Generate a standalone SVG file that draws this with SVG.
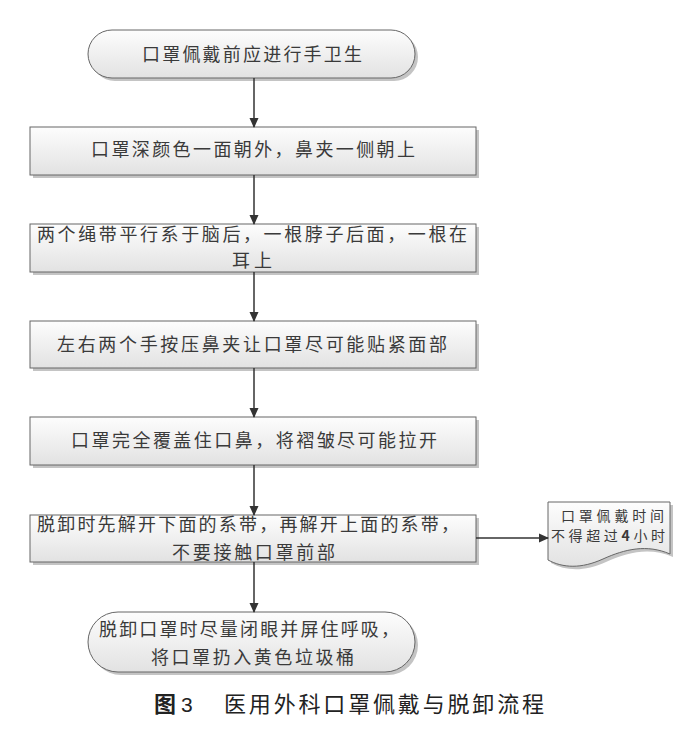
<svg xmlns="http://www.w3.org/2000/svg" width="694" height="731" viewBox="0 0 694 731">
<defs>
<linearGradient id="g" x1="0" y1="0" x2="0" y2="1">
<stop offset="0" stop-color="#fdfdfd"/>
<stop offset="1" stop-color="#e2e2e2"/>
</linearGradient>
<marker id="ah" markerWidth="10" markerHeight="10" refX="9" refY="5" orient="auto" markerUnits="userSpaceOnUse">
<path d="M0,0.5 L10,5 L0,9.5 Z" fill="#333"/>
</marker>
</defs>
<style>
.box{fill:url(#g);stroke:#666;stroke-width:1}
.sh{fill:#c4c4c4}
.t{font-family:"Noto Sans CJK SC","Liberation Sans",sans-serif;font-size:18px;fill:#3a3a3a}
.s{font-family:"Noto Sans CJK SC","Liberation Sans",sans-serif;font-size:14px;fill:#3a3a3a}
.c{font-family:"Noto Sans CJK SC","Liberation Sans",sans-serif;font-size:22px;fill:#222}
.ln{stroke:#333;stroke-width:1.5;fill:none;marker-end:url(#ah)}
</style>
<rect width="694" height="731" fill="#fff"/>
<g id="n1">
<rect class="sh" x="91" y="33" width="327" height="48" rx="24"/>
<rect class="box" x="88" y="30" width="327" height="48" rx="24"/>
<text class="t" x="142" y="60.5" textLength="220" lengthAdjust="spacing">口罩佩戴前应进行手卫生</text>
</g>
<g id="n2">
<rect class="sh" x="33" y="130" width="446" height="48"/>
<rect class="box" x="30" y="127" width="446" height="48"/>
<text class="t" x="91" y="155.5" textLength="324" lengthAdjust="spacing">口罩深颜色一面朝外，鼻夹一侧朝上</text>
</g>
<g id="n3">
<rect class="sh" x="33" y="227" width="446" height="48"/>
<rect class="box" x="30" y="224" width="446" height="48"/>
<text class="t" x="37" y="240.5" textLength="430" lengthAdjust="spacing">两个绳带平行系于脑后，一根脖子后面，一根在</text>
<text class="t" x="232" y="266.5" textLength="40" lengthAdjust="spacing">耳上</text>
</g>
<g id="n4">
<rect class="sh" x="33" y="324" width="446" height="47"/>
<rect class="box" x="30" y="321" width="446" height="47"/>
<text class="t" x="57" y="350.5" textLength="390" lengthAdjust="spacing">左右两个手按压鼻夹让口罩尽可能贴紧面部</text>
</g>
<g id="n5">
<rect class="sh" x="33" y="420" width="446" height="48"/>
<rect class="box" x="30" y="417" width="446" height="48"/>
<text class="t" x="71" y="446.5" textLength="366" lengthAdjust="spacing">口罩完全覆盖住口鼻，将褶皱尽可能拉开</text>
</g>
<g id="n6">
<rect class="sh" x="33" y="518" width="446" height="47"/>
<rect class="box" x="30" y="515" width="446" height="47"/>
<text class="t" x="37" y="530.5" textLength="422" lengthAdjust="spacing">脱卸时先解开下面的系带，再解开上面的系带，</text>
<text class="t" x="172" y="558.5" textLength="163" lengthAdjust="spacing">不要接触口罩前部</text>
</g>
<g id="n7">
<rect class="sh" x="91" y="615" width="327" height="60" rx="30"/>
<rect class="box" x="88" y="612" width="327" height="60" rx="30"/>
<text class="t" x="99" y="635.5" textLength="300" lengthAdjust="spacing">脱卸口罩时尽量闭眼并屏住呼吸，</text>
<text class="t" x="151" y="663.5" textLength="203" lengthAdjust="spacing">将口罩扔入黄色垃圾桶</text>
</g>
<g id="n8">
<path class="sh" d="M551,505 H673 V557 C650,547 628,552 606,562 C584,572 566,571 551,563 Z"/>
<path class="box" d="M548,502 H670 V554 C647,544 625,549 603,559 C581,569 563,568 548,560 Z"/>
<text class="s" x="561" y="520.5" textLength="103" lengthAdjust="spacing">口罩佩戴时间</text>
<text class="s" x="551" y="541" textLength="114" lengthAdjust="spacing">不得超过<tspan font-weight="bold">4</tspan>小时</text>
</g>
<g id="connectors">
<line class="ln" x1="254" y1="78" x2="254" y2="127"/>
<line class="ln" x1="254" y1="175" x2="254" y2="224"/>
<line class="ln" x1="254" y1="272" x2="254" y2="321"/>
<line class="ln" x1="254" y1="368" x2="254" y2="417"/>
<line class="ln" x1="254" y1="465" x2="254" y2="515"/>
<line class="ln" x1="254" y1="562" x2="254" y2="612"/>
<line class="ln" x1="476" y1="538" x2="548" y2="538"/>
</g>
<g id="caption">
<text class="c" x="154" y="712" font-weight="bold">图</text>
<text x="181" y="712" font-family="Liberation Sans, sans-serif" font-size="21" fill="#222">3</text>
<text class="c" x="224" y="712" textLength="320" lengthAdjust="spacing">医用外科口罩佩戴与脱卸流程</text>
</g>
</svg>
